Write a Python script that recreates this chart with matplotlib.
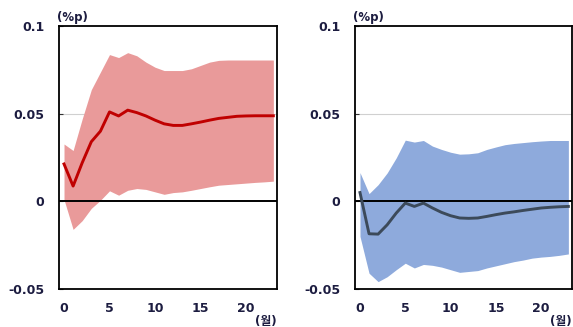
import matplotlib
matplotlib.use("Agg")
import matplotlib.pyplot as plt
import numpy as np

months = list(range(24))

left_mean = [0.0213, 0.0087, 0.022, 0.034, 0.040, 0.051, 0.0487, 0.052, 0.0506, 0.0487,
             0.0463, 0.0442, 0.0433, 0.0433, 0.0442, 0.0452, 0.0463, 0.0473, 0.0479, 0.0485,
             0.0487, 0.0488, 0.0488, 0.0488]
left_upper = [0.0327, 0.029, 0.047, 0.0637, 0.0737, 0.0837, 0.082, 0.0848, 0.083, 0.0794,
              0.0765, 0.0746, 0.0746, 0.0746, 0.0756, 0.0775, 0.0794, 0.0804, 0.0806, 0.0806,
              0.0806, 0.0806, 0.0806, 0.0806]
left_lower = [0.001, -0.0160, -0.011, -0.004, 0.0006, 0.006, 0.0035, 0.0063, 0.0073, 0.0068,
              0.0054, 0.004, 0.005, 0.0054, 0.0063, 0.0073, 0.0083, 0.0092, 0.0096, 0.0100,
              0.0104, 0.0108, 0.0111, 0.0115]

right_mean = [0.0050, -0.0185, -0.0187, -0.0134, -0.0067, -0.001, -0.0029, -0.001, -0.0038, -0.0063,
              -0.0082, -0.0095, -0.0097, -0.0095, -0.0086, -0.0076, -0.0067, -0.0060, -0.0052, -0.0045,
              -0.0038, -0.0034, -0.0031, -0.0029]
right_upper = [0.0164, 0.0044, 0.0095, 0.0162, 0.0248, 0.0349, 0.0338, 0.0347, 0.0315, 0.0296,
               0.028, 0.0269, 0.0271, 0.0277, 0.0296, 0.031, 0.0323, 0.033, 0.0335, 0.0340,
               0.0344, 0.0347, 0.0347, 0.0347]
right_lower = [-0.020, -0.041, -0.0458, -0.043, -0.039, -0.0353, -0.038, -0.036, -0.0365, -0.0375,
               -0.039, -0.0405, -0.0400, -0.0395, -0.038, -0.0368, -0.0356, -0.0344, -0.0335, -0.0324,
               -0.0318, -0.0314, -0.0308, -0.030]

yticks = [-0.05, 0, 0.05, 0.1]
yticklabels = ["-0.05", "0", "0.05", "0.1"]
xticks = [0, 5, 10, 15, 20]
xticklabels = ["0", "5", "10", "15", "20"]

text_color = "#1c1c40"
fam = ["DejaVu Sans", "Noto Sans CJK KR"]

fig = plt.figure(figsize=(5.73, 3.27), dpi=100)
ax1 = fig.add_axes([59/573, 1-289/327, (277-59)/573, (289-26)/327])
ax2 = fig.add_axes([355/573, 1-289/327, (572-355)/573, (289-26)/327])

panels = [
    (ax1, left_mean, left_upper, left_lower, "#e99a9a", "#c00000"),
    (ax2, right_mean, right_upper, right_lower, "#8eaadc", "#3c4a5a"),
]

for ax, mean, up, lo, fc, lc in panels:
    ax.fill_between(months, lo, up, color=fc, lw=0, zorder=1)
    ax.axhline(0.05, color="#d0d0d0", lw=0.8, zorder=0)
    ax.axhline(0, color="black", lw=1.4, zorder=2)
    ax.plot(months, mean, color=lc, lw=2.1, zorder=3)
    ax.set_xlim(-0.55, 23.4)
    ax.set_ylim(-0.05, 0.1)
    ax.set_yticks(yticks)
    ax.set_yticklabels(yticklabels)
    ax.set_xticks(xticks)
    ax.set_xticklabels(xticklabels)
    ax.tick_params(axis="y", direction="in", length=3, width=0.8, pad=10.5,
                   labelsize=9, labelcolor=text_color, color="#333333")
    ax.tick_params(axis="x", length=0, pad=9, labelsize=9, labelcolor=text_color)
    for lab in ax.get_xticklabels() + ax.get_yticklabels():
        lab.set_fontweight("bold")
    for sp in ax.spines.values():
        sp.set_linewidth(1.3)
        sp.set_color("black")
    ax.text(-0.01, 1.034, "(%p)", transform=ax.transAxes, fontsize=8.5, fontweight="bold",
            color=text_color, ha="left", va="center", family=fam)
    ax.text(1.0, -0.122, "(월)", transform=ax.transAxes, fontsize=8.5, fontweight="bold",
            color=text_color, ha="right", va="center", family=fam)

fig.savefig("out.png", dpi=100)
